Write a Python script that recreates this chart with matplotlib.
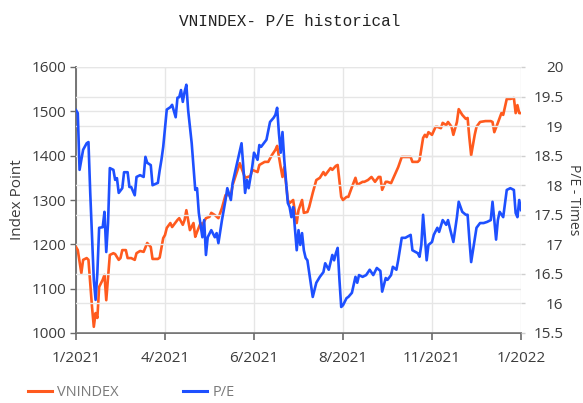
import matplotlib
matplotlib.use("Agg")
import matplotlib.pyplot as plt
from matplotlib.lines import Line2D

# ---- data (trading-day index within Jan 2021 .. Jan 2022) ----
vn_day = [0, 1, 3, 4, 6, 7, 9, 10, 11, 12, 13, 15, 16, 17, 18, 19, 21, 22, 24, 25,
          26, 28, 29, 31, 33, 34, 36, 38, 40, 42, 43, 46, 47, 48, 49, 50, 51, 53, 54, 57,
          58, 60, 61, 62, 64, 66, 67, 68, 70, 71, 73, 75, 76, 78, 80, 82, 84, 87, 88, 92,
          95, 98, 99, 102, 103, 106, 108, 110, 112, 113, 115, 116, 117, 119, 120, 122, 123, 124, 125, 127,
          128, 130, 131, 133, 135, 137, 139, 140, 143, 144, 146, 147, 149, 150, 152, 153, 155, 157, 158, 161,
          162, 164, 166, 168, 170, 171, 172, 174, 175, 177, 179, 181, 183, 185, 188, 189, 192, 193, 195, 196,
          197, 198, 200, 202, 203, 205, 206, 208, 209, 211, 212, 214, 215, 217, 219, 220, 221, 222, 224, 225,
          227, 230, 233, 234, 235, 237, 239, 240, 242, 244, 246, 247, 248, 249, 250]
vn_val = [1194, 1187, 1135, 1165, 1169, 1165, 1059, 1014, 1045, 1034, 1104, 1120, 1131, 1074, 1126, 1176, 1180, 1178, 1165, 1169,
          1187, 1187, 1169, 1169, 1165, 1180, 1185, 1183, 1203, 1194, 1167, 1167, 1170, 1192, 1214, 1221, 1237, 1248, 1239, 1255,
          1259, 1244, 1255, 1277, 1232, 1248, 1217, 1228, 1248, 1244, 1259, 1262, 1271, 1266, 1259, 1282, 1311, 1311, 1334, 1383,
          1350, 1354, 1368, 1363, 1379, 1386, 1386, 1401, 1413, 1422, 1374, 1352, 1374, 1300, 1293, 1300, 1273, 1248, 1277, 1300,
          1271, 1273, 1284, 1316, 1345, 1350, 1363, 1356, 1372, 1368, 1377, 1379, 1307, 1300, 1307, 1307, 1329, 1350, 1334, 1341,
          1341, 1345, 1352, 1341, 1352, 1352, 1323, 1341, 1341, 1338, 1356, 1374, 1397, 1397, 1397, 1386, 1386, 1390, 1440, 1447,
          1442, 1453, 1447, 1465, 1465, 1462, 1474, 1469, 1476, 1465, 1447, 1476, 1505, 1492, 1483, 1485, 1440, 1401, 1447, 1465,
          1476, 1478, 1478, 1476, 1453, 1474, 1496, 1492, 1528, 1528, 1530, 1496, 1514, 1496, 1496]

pe_day = [0, 1, 2, 4, 6, 7, 8, 10, 11, 12, 13, 15, 16, 17, 18, 19, 21, 22, 23, 24,
          26, 27, 29, 30, 31, 33, 34, 36, 38, 39, 40, 42, 43, 46, 47, 48, 49, 51, 53, 54,
          56, 57, 58, 59, 60, 61, 62, 63, 65, 67, 68, 69, 71, 72, 73, 74, 76, 78, 79, 80,
          82, 84, 85, 87, 88, 90, 93, 94, 95, 96, 97, 99, 100, 102, 103, 104, 106, 107, 109, 111,
          112, 113, 114, 115, 116, 117, 119, 120, 121, 122, 124, 125, 126, 127, 128, 129, 130, 131, 133, 135,
          137, 139, 140, 142, 144, 145, 146, 147, 148, 149, 150, 152, 153, 155, 157, 158, 159, 161, 163, 165,
          167, 169, 171, 172, 174, 175, 177, 178, 180, 181, 183, 185, 188, 189, 192, 193, 194, 195, 197, 198,
          200, 201, 203, 204, 206, 208, 209, 210, 212, 214, 215, 217, 219, 220, 221, 222, 224, 225, 227, 229,
          231, 233, 234, 235, 236, 237, 238, 240, 242, 244, 246, 247, 248, 249, 250]
pe_val = [19.27, 19.22, 18.26, 18.60, 18.71, 18.73, 17.87, 16.40, 16.06, 16.52, 17.28, 17.29, 17.55, 16.87, 17.36, 18.29, 18.26, 18.09, 18.12, 17.87,
          17.95, 18.22, 18.22, 17.97, 17.97, 17.83, 18.14, 18.17, 18.14, 18.48, 18.38, 18.34, 18.00, 18.04, 18.25, 18.43, 18.65, 19.28, 19.32, 19.36,
          19.15, 19.48, 19.49, 19.61, 19.41, 19.58, 19.70, 19.27, 18.71, 17.92, 17.95, 17.53, 17.12, 17.41, 16.82, 17.12, 17.24, 17.12, 17.19, 17.02,
          17.41, 17.75, 17.95, 17.75, 18.04, 18.31, 18.71, 18.31, 17.87, 18.09, 17.95, 18.31, 18.55, 18.43, 18.68, 18.65, 18.73, 18.77, 19.07, 19.14,
          19.19, 19.31, 18.88, 18.55, 18.90, 18.43, 17.70, 17.63, 17.46, 17.63, 16.90, 17.24, 16.99, 17.19, 16.90, 16.77, 16.73, 16.52, 16.11, 16.35,
          16.45, 16.53, 16.68, 16.57, 16.82, 16.73, 16.85, 16.94, 16.40, 15.94, 15.97, 16.09, 16.11, 16.18, 16.45, 16.35, 16.48, 16.45, 16.48, 16.57,
          16.48, 16.60, 16.55, 16.20, 16.43, 16.40, 16.48, 16.62, 16.57, 16.73, 17.11, 17.11, 17.16, 16.90, 16.85, 16.79, 16.99, 17.50, 16.73, 16.99,
          17.04, 17.16, 17.28, 17.21, 17.41, 17.33, 17.41, 17.28, 17.04, 17.46, 17.72, 17.55, 17.50, 17.50, 17.08, 16.70, 17.08, 17.28, 17.36, 17.36,
          17.38, 17.41, 17.72, 17.41, 17.08, 17.41, 17.55, 17.46, 17.92, 17.95, 17.92, 17.53, 17.46, 17.75, 17.58]

x_ticks = [0, 50, 100, 150, 200, 250]
x_labels = ["1/2021", "4/2021", "6/2021", "8/2021", "11/2021", "1/2022"]
left_ticks = [1000, 1100, 1200, 1300, 1400, 1500, 1600]
right_ticks = [15.5, 16, 16.5, 17, 17.5, 18, 18.5, 19, 19.5, 20]
right_labels = ["15.5", "16", "16.5", "17", "17.5", "18", "18.5", "19", "19.5", "20"]

ORANGE = "#FF5A1E"
BLUE = "#1E50FF"
TXT = "#3c3c3c"
GRID = "#e6e6e6"

plt.rcParams['font.family'] = ['Open Sans', 'DejaVu Sans']

W, H = 583, 403
fig = plt.figure(figsize=(W / 100, H / 100), dpi=100)
ax = fig.add_axes([76 / W, 1 - 333 / H, (521 - 76) / W, (333 - 67) / H])
ax2 = ax.twinx()

ax.set_xlim(0, 250)
ax.set_ylim(1000, 1600)
ax2.set_ylim(15.5, 20)

ax.set_yticks(left_ticks)
ax2.set_yticks(right_ticks)
ax.set_xticks(x_ticks)
ax.grid(True, axis='both', color=GRID, linewidth=1.0, zorder=0)
ax2.grid(True, axis='y', color=GRID, linewidth=1.0, zorder=0)
ax.set_axisbelow(True)
ax2.set_axisbelow(True)

ax.plot(vn_day, vn_val, color=ORANGE, linewidth=1.9, zorder=3)
ax2.plot(pe_day, pe_val, color=BLUE, linewidth=1.9, zorder=3)

for a in (ax, ax2):
    for s in ('top', 'right'):
        a.spines[s].set_visible(False)
ax2.spines['left'].set_visible(False)
ax2.spines['bottom'].set_visible(False)
ax.spines['left'].set_color('#6a6a6a')
ax.spines['left'].set_linewidth(1.3)
ax.spines['bottom'].set_color('#6a6a6a')
ax.spines['bottom'].set_linewidth(1.3)

ax.set_xticklabels(x_labels)
ax.tick_params(axis='x', length=5, width=1.2, color='#6a6a6a', pad=8,
               labelsize=11, labelcolor=TXT)
ax.tick_params(axis='y', length=4, width=1.0, color='#6a6a6a', pad=3,
               labelsize=11, labelcolor=TXT)
ax2.set_yticklabels(right_labels)
ax2.tick_params(axis='y', length=3, width=1.0, color='#cfcfcf', pad=27.5,
                labelsize=11, labelcolor=TXT)
for lbl in ax2.get_yticklabels():
    lbl.set_horizontalalignment('right')

fig.text(290 / W, 1 - 22 / H, "VNINDEX- P/E historical", ha='center', va='center',
         fontsize=11.5, family=['Liberation Mono', 'DejaVu Sans Mono'], color='#222222')
fig.text(18 / W, 1 - 200 / H, "Index Point", rotation=90, ha='center', va='center',
         fontsize=11, color=TXT)
fig.text(574 / W, 1 - 200 / H, "P/E - Times", rotation=270, ha='center', va='center',
         fontsize=10, color=TXT)

handles = [Line2D([], [], color=ORANGE, linewidth=2.2),
           Line2D([], [], color=BLUE, linewidth=2.2)]
fig.legend(handles, ["VNINDEX", "P/E"], loc='center left',
           bbox_to_anchor=(28 / W, 1 - 393 / H), ncol=2, frameon=False,
           fontsize=10.5, labelcolor='#7a7a7a', handlelength=1.65,
           handletextpad=0.35, columnspacing=4.4, borderaxespad=0, borderpad=0)

fig.savefig("out.png", dpi=100)
